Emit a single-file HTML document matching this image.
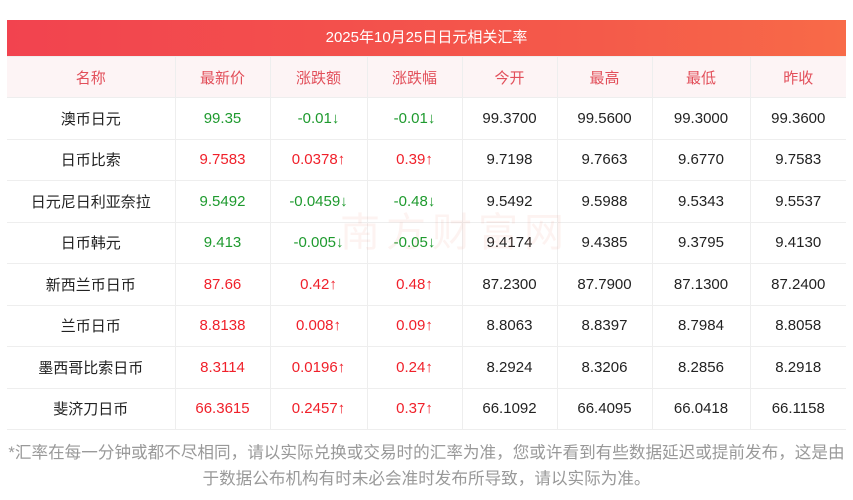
<!DOCTYPE html>
<html><head><meta charset="utf-8"><style>
body{margin:0;width:853px;height:500px;background:#fff;font-family:"Liberation Sans","Noto Sans CJK SC",sans-serif;position:relative;overflow:hidden}
.title{position:absolute;left:7px;top:20px;width:839px;height:36px;background:linear-gradient(90deg,#f2434f,#f45a4a 70%,#f86a48);color:#fff;font-size:15px;line-height:36px;text-align:center}
table{position:absolute;left:7px;top:56px;width:839px;border-collapse:collapse;table-layout:fixed}
td{height:40.5px;border:1px solid #eee;text-align:center;font-size:15px;color:#222;padding:0}
tr.h td{background:#fdf4f5;color:#e24f5a;height:40px}
tr td:first-child{border-left:none}tr td:last-child{border-right:none}
.g{color:#1e9a2e}.r{color:#f0202a}
.note{position:absolute;left:0;top:440px;width:853px;text-align:center;color:#999;font-size:16.6px;line-height:26px;white-space:nowrap}
.wm{position:absolute;left:340px;top:200px;color:rgba(230,120,100,0.09);font-size:40px;letter-spacing:6px}
</style></head><body>
<div class="title">2025年10月25日日元相关汇率</div>
<table>
<colgroup><col style="width:168px"><col style="width:95px"><col style="width:97px"><col style="width:95px"><col style="width:95px"><col style="width:95px"><col style="width:98px"><col style="width:96px"></colgroup>
<tr class="h"><td>名称</td><td>最新价</td><td>涨跌额</td><td>涨跌幅</td><td>今开</td><td>最高</td><td>最低</td><td>昨收</td></tr>
<tr><td>澳币日元</td><td class="g">99.35</td><td class="g">-0.01↓</td><td class="g">-0.01↓</td><td>99.3700</td><td>99.5600</td><td>99.3000</td><td>99.3600</td></tr>
<tr><td>日币比索</td><td class="r">9.7583</td><td class="r">0.0378↑</td><td class="r">0.39↑</td><td>9.7198</td><td>9.7663</td><td>9.6770</td><td>9.7583</td></tr>
<tr><td>日元尼日利亚奈拉</td><td class="g">9.5492</td><td class="g">-0.0459↓</td><td class="g">-0.48↓</td><td>9.5492</td><td>9.5988</td><td>9.5343</td><td>9.5537</td></tr>
<tr><td>日币韩元</td><td class="g">9.413</td><td class="g">-0.005↓</td><td class="g">-0.05↓</td><td>9.4174</td><td>9.4385</td><td>9.3795</td><td>9.4130</td></tr>
<tr><td>新西兰币日币</td><td class="r">87.66</td><td class="r">0.42↑</td><td class="r">0.48↑</td><td>87.2300</td><td>87.7900</td><td>87.1300</td><td>87.2400</td></tr>
<tr><td>兰币日币</td><td class="r">8.8138</td><td class="r">0.008↑</td><td class="r">0.09↑</td><td>8.8063</td><td>8.8397</td><td>8.7984</td><td>8.8058</td></tr>
<tr><td>墨西哥比索日币</td><td class="r">8.3114</td><td class="r">0.0196↑</td><td class="r">0.24↑</td><td>8.2924</td><td>8.3206</td><td>8.2856</td><td>8.2918</td></tr>
<tr><td>斐济刀日币</td><td class="r">66.3615</td><td class="r">0.2457↑</td><td class="r">0.37↑</td><td>66.1092</td><td>66.4095</td><td>66.0418</td><td>66.1158</td></tr>
</table>
<div class="wm">南方财富网</div>
<div class="note">*汇率在每一分钟或都不尽相同，请以实际兑换或交易时的汇率为准，您或许看到有些数据延迟或提前发布，这是由<br>于数据公布机构有时未必会准时发布所导致，请以实际为准。</div>
</body></html>
